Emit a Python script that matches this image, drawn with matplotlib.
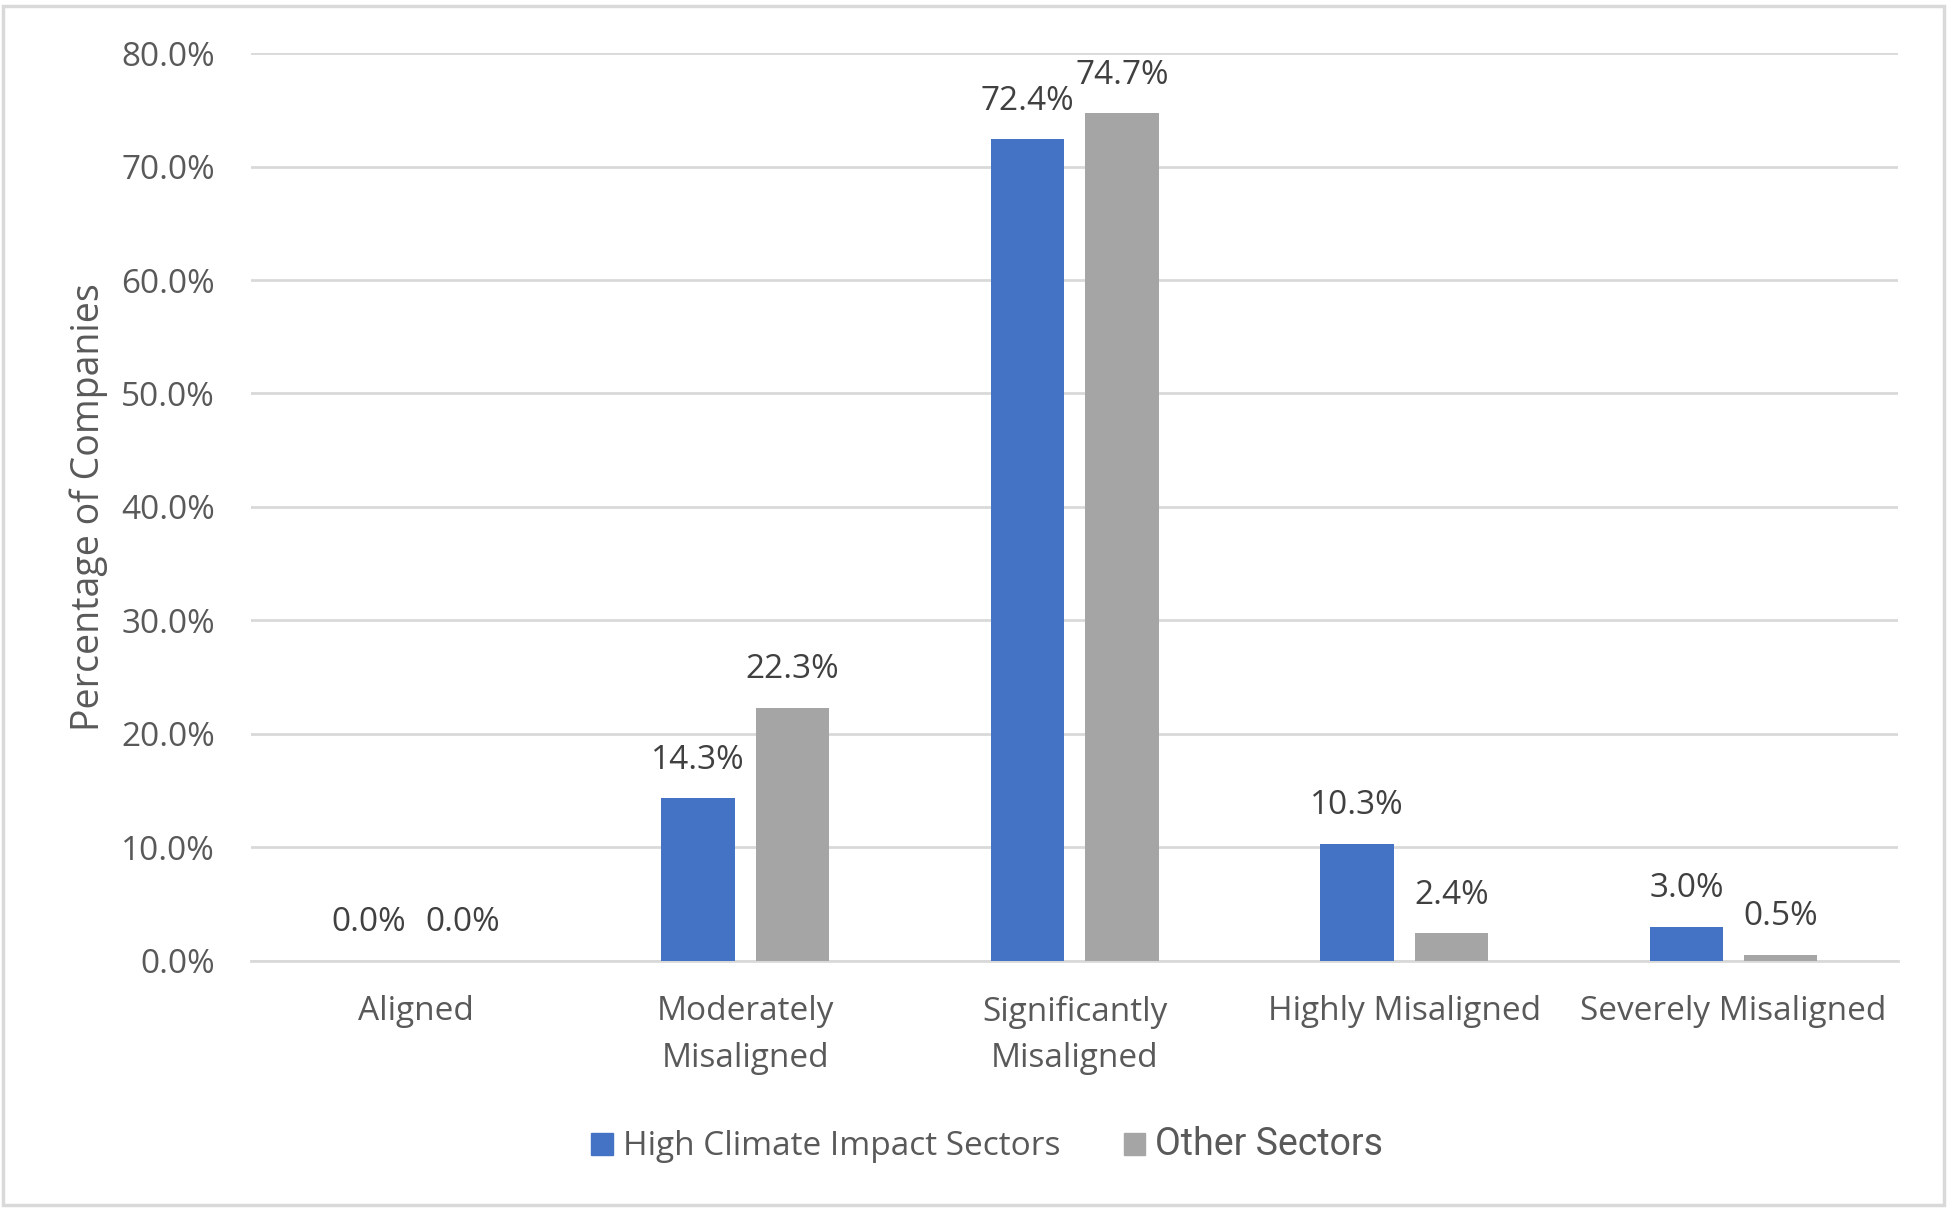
import matplotlib
matplotlib.use('Agg')
import matplotlib.pyplot as plt
from matplotlib.patches import Rectangle, Patch
import numpy as np

plt.rcParams['font.family'] = ['Open Sans', 'DejaVu Sans']

# data
categories = ['Aligned', 'Moderately\nMisaligned', 'Significantly\nMisaligned',
              'Highly Misaligned', 'Severely Misaligned']
high_impact = [0.0, 14.3, 72.4, 10.3, 3.0]
other_sectors = [0.0, 22.3, 74.7, 2.4, 0.5]
series_names = ['High Climate Impact Sectors', 'Other Sectors']

blue = '#4472C4'
gray = '#A5A5A5'
txt = '#595959'

fig = plt.figure(figsize=(19.47, 12.09), dpi=100)
ax = fig.add_axes([0.129, 0.2055, 0.846, 0.7505])

x = np.arange(len(categories))
w = 0.223
off = 0.143
b1 = ax.bar(x - off, high_impact, w, color=blue, zorder=3)
b2 = ax.bar(x + off, other_sectors, w, color=gray, zorder=3)

# data labels
for bars, vals in [(b1, high_impact), (b2, other_sectors)]:
    for r, v in zip(bars, vals):
        ax.annotate('%.1f%%' % v, (r.get_x() + r.get_width() / 2, r.get_height()),
                    xytext=(0, 15.5), textcoords='offset points',
                    ha='center', va='bottom', fontsize=24, color='#404040')

ax.set_xlim(-0.5, len(categories) - 0.5)
ax.set_ylim(0, 80)
ax.set_yticks(np.arange(0, 81, 10))
ax.set_yticklabels(['%.1f%%' % t for t in np.arange(0, 81, 10)])
ax.set_xticks(x)
ax.set_xticklabels(categories)
for lab in ax.get_xticklabels():
    lab.set_linespacing(1.55)

ax.tick_params(axis='both', length=0, labelsize=24, labelcolor=txt)
ax.tick_params(axis='y', pad=26)
ax.tick_params(axis='x', pad=25)
ax.grid(axis='y', color='#D9D9D9', linewidth=2, zorder=0)
for s in ['top', 'right', 'left']:
    ax.spines[s].set_visible(False)
ax.spines['bottom'].set_color('#D9D9D9')
ax.spines['bottom'].set_linewidth(2)

ax.set_ylabel('Percentage of Companies', fontsize=27, color=txt)
ax.yaxis.set_label_coords(-0.087, 0.5)

handles = [Patch(color=blue), Patch(color=gray)]
leg = fig.legend(handles, series_names, loc='center', bbox_to_anchor=(0.507, 0.053),
                 ncol=2, frameon=False, fontsize=24, handlelength=0.64, handleheight=0.64,
                 handletextpad=0.3, columnspacing=1.9, labelcolor=txt)
leg.get_texts()[1].set_fontfamily(['Roboto', 'DejaVu Sans'])
leg.get_texts()[1].set_fontsize(27)

# outer frame
fig.patches.append(Rectangle((0.0015, 0.003), 0.997, 0.992, transform=fig.transFigure,
                             fill=False, edgecolor='#D9D9D9', linewidth=2.5))

fig.savefig('out.png', dpi=100)
